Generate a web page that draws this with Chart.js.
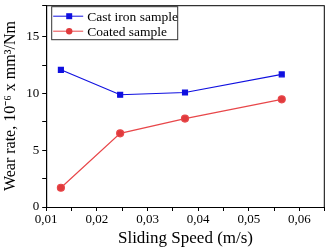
<!DOCTYPE html>
<html>
<head>
<meta charset="utf-8">
<script src="https://cdn.jsdelivr.net/npm/chart.js@4"></script>
<style>
  body { margin: 0; background: #fff; }
  #wrap { width: 330px; height: 250px; }
</style>
</head>
<body>
<div id="wrap"><canvas id="myChart" width="330" height="250"></canvas></div>
<script>
const speeds = [0.0129, 0.0246, 0.0374, 0.0565];
const castIron = [12.1, 9.9, 10.1, 11.7];
const coated = [1.7, 6.5, 7.8, 9.5];
const seriesNames = ["Cast iron sample", "Coated sample"];

const font = "'Liberation Serif', 'Times New Roman', serif";

// box around the plot + legend with a frame, drawn inside the chart area
const frame = {
  id: "frame",
  afterDraw(chart) {
    const { ctx, chartArea: a } = chart;
    ctx.save();
    ctx.strokeStyle = "#000";
    ctx.lineWidth = 1;
    ctx.strokeRect(a.left + 0.5, a.top + 0.5, a.right - a.left - 1, a.bottom - a.top);

    const lx = a.left + 5, ly = a.top + 1, lw = 126, lh = 33;
    ctx.strokeStyle = "#333";
    ctx.strokeRect(lx + 0.5, ly + 0.5, lw, lh);
    ctx.font = "13.5px " + font;
    ctx.textBaseline = "middle";
    chart.data.datasets.forEach((ds, i) => {
      const y = ly + 10 + i * 15;
      ctx.strokeStyle = ds.borderColor;
      ctx.beginPath();
      ctx.moveTo(lx + 2, y);
      ctx.lineTo(lx + 32, y);
      ctx.stroke();
      ctx.fillStyle = ds.backgroundColor;
      ctx.beginPath();
      if (ds.pointStyle === "rect") ctx.rect(lx + 15, y - 3, 6, 6);
      else ctx.arc(lx + 18, y, 3.2, 0, Math.PI * 2);
      ctx.fill();
      ctx.fillStyle = "#000";
      ctx.fillText(ds.label, lx + 36, y + 1);
    });
    ctx.restore();
  },
};

new Chart(document.getElementById("myChart"), {
  type: "scatter",
  data: {
    datasets: [
      {
        label: seriesNames[0],
        data: speeds.map((x, i) => ({ x, y: castIron[i] })),
        showLine: true,
        borderColor: "#1010e0",
        backgroundColor: "#1010e0",
        borderWidth: 1.2,
        pointStyle: "rect",
        pointRadius: 3.5,
      },
      {
        label: seriesNames[1],
        data: speeds.map((x, i) => ({ x, y: coated[i] })),
        showLine: true,
        borderColor: "#e8474a",
        backgroundColor: "#e03a3c",
        borderWidth: 1.2,
        pointStyle: "circle",
        pointRadius: 3.5,
      },
    ],
  },
  options: {
    responsive: false,
    animation: false,
    layout: { padding: { top: 0, right: 3, left: 1, bottom: 1 } },
    plugins: { legend: { display: false }, tooltip: { enabled: false } },
    scales: {
      x: {
        type: "linear",
        min: 0.01,
        max: 0.065,
        ticks: {
          stepSize: 0.005,
          autoSkip: false,
          maxRotation: 0,
          color: "#000",
          padding: 1,
          font: { family: font, size: 13 },
          callback: (v) => (Math.round(v * 1000) % 10 === 0 ? v.toFixed(2).replace(".", ",") : ""),
        },
        grid: { drawOnChartArea: false, tickLength: 4, color: "#000" },
        border: { color: "#000" },
        title: {
          display: true,
          text: "Sliding Speed (m/s)",
          color: "#000",
          padding: { top: 0, bottom: 0 },
          font: { family: font, size: 17 },
        },
      },
      y: {
        min: 0,
        max: 17.8,
        afterFit: (scale) => { scale.paddingTop = 4; },
        ticks: {
          stepSize: 2.5,
          color: "#000",
          padding: 3,
          font: { family: font, size: 13 },
          callback: (v) => (v % 5 === 0 ? v : ""),
        },
        grid: { drawOnChartArea: false, tickLength: 4, color: "#000" },
        border: { color: "#000" },
        title: {
          display: true,
          text: "Wear rate, 10⁻⁶ x mm³/Nm",
          color: "#000",
          padding: { top: 0, bottom: 3 },
          font: { family: font, size: 16 },
        },
      },
    },
  },
  plugins: [frame],
});
</script>
</body>
</html>
